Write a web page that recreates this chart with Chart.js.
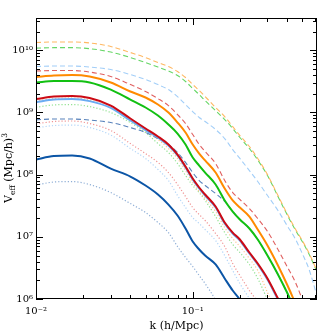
<!DOCTYPE html>
<html>
<head>
<meta charset="utf-8">
<script src="https://cdn.jsdelivr.net/npm/chart.js@4.4.1/dist/chart.umd.min.js"></script>
<style>
    html, body { margin: 0; padding: 0; background: #fff; }
    #wrap { width: 335px; height: 335px; }
</style>
</head>
<body>
<div id="wrap"><canvas id="veffChart" width="335" height="335"></canvas></div>
<script>
// k grid (h/Mpc) shared by every curve
const kValues = [0.01, 0.013, 0.017, 0.022, 0.03, 0.04, 0.05, 0.06, 0.07, 0.08, 0.09, 0.1, 0.11, 0.12,
                 0.14, 0.16, 0.18, 0.2, 0.23, 0.26, 0.3, 0.35, 0.4, 0.45, 0.5, 0.55, 0.62];

// V_eff (Mpc/h)^3
const orangeDashed = [1.33e10, 1.36e10, 1.36e10, 1.31e10, 1.15e10, 9.19e9, 7.63e9, 6.34e9, 5.47e9, 4.55e9, 3.64e9, 2.81e9, 2.25e9, 1.80e9,
                      1.20e9, 8.59e8, 5.93e8, 4.25e8, 2.83e8, 1.82e8, 1.00e8, 4.61e7, 2.37e7, 1.36e7, 8.71e6, 5.59e6, 2.87e6];
const greenDashed = [1.08e10, 1.10e10, 1.10e10, 1.06e10, 9.35e9, 7.63e9, 6.34e9, 5.37e9, 4.63e9, 3.92e9, 3.14e9, 2.42e9, 1.94e9, 1.55e9,
                     1.07e9, 7.69e8, 5.51e8, 3.95e8, 2.63e8, 1.72e8, 9.68e7, 4.45e7, 2.28e7, 1.31e7, 8.40e6, 5.39e6, 2.77e6];
const lightBlueDashed = [5.47e9, 5.57e9, 5.57e9, 5.37e9, 4.89e9, 4.07e9, 3.38e9, 2.81e9, 2.33e9, 1.80e9, 1.34e9, 1.03e9, 8.28e8, 7.14e8,
                         5.31e8, 3.80e8, 2.53e8, 1.82e8, 1.16e8, 7.74e7, 4.61e7, 2.65e7, 1.52e7, 9.39e6, 5.39e6, 3.09e6, 1.14e6];
const redDashed = [4.63e9, 4.72e9, 4.72e9, 4.46e9, 3.78e9, 2.81e9, 2.17e9, 1.67e9, 1.29e9, 9.25e8, 6.63e8, 4.41e8, 3.05e8, 2.35e8,
                   1.51e8, 8.04e7, 5.15e7, 3.98e7, 2.85e7, 1.97e7, 1.22e7, 6.25e6, 3.33e6, 1.91e6, 1.0e6, 6.07e5, null];
const orangeSolid = [3.71e9, 3.92e9, 3.99e9, 3.78e9, 3.03e9, 2.17e9, 1.74e9, 1.34e9, 9.96e8, 6.88e8, 4.75e8, 3.05e8, 2.18e8, 1.69e8,
                     1.08e8, 5.98e7, 3.84e7, 2.96e7, 2.12e7, 1.31e7, 7.24e6, 3.46e6, 1.71e6, 8.78e5, 4.86e5, null, null];
const greenSolid = [3.03e9, 3.20e9, 3.20e9, 3.03e9, 2.33e9, 1.61e9, 1.20e9, 8.91e8, 6.39e8, 4.58e8, 3.05e8, 1.88e8, 1.40e8, 1.08e8,
                    6.93e7, 3.84e7, 2.55e7, 1.90e7, 1.36e7, 9.05e6, 5.00e6, 2.48e6, 1.27e6, 6.53e5, 3.75e5, null, null];
const redSolid = [1.64e9, 1.80e9, 1.84e9, 1.71e9, 1.29e9, 7.98e8, 5.51e8, 4.10e8, 3.05e8, 2.10e8, 1.35e8, 8.65e7, 6.21e7, 4.79e7,
                  3.07e7, 1.70e7, 1.17e7, 9.05e6, 5.59e6, 3.72e6, 2.14e6, 1.02e6, 5.43e5, null, null, null, null];
const lightBlueSolid = [1.46e9, 1.61e9, 1.64e9, 1.52e9, 1.18e9, 7.41e8, 5.21e8, 3.95e8, 2.94e8, 2.03e8, 1.30e8, 8.34e7, 5.98e7, 4.61e7,
                        2.96e7, 1.64e7, 1.13e7, 8.71e6, 5.39e6, 3.59e6, 2.06e6, 9.8e5, 5.2e5, null, null, null, null];
const orangeDotted = [1.54e9, 1.67e9, 1.71e9, 1.58e9, 1.20e9, 7.41e8, 5.02e8, 3.67e8, 2.63e8, 1.82e8, 1.16e8, 7.46e7, 5.35e7, 4.13e7,
                      2.55e7, 1.41e7, 9.39e6, 6.98e6, 4.48e6, 2.87e6, 1.27e6, 5.43e5, null, null, null, null, null];
const greenDotted = [1.21e9, 1.32e9, 1.34e9, 1.24e9, 9.96e8, 6.88e8, 4.75e8, 3.16e8, 2.27e8, 1.51e8, 9.68e7, 6.68e7, 5.15e7, 3.84e7,
                     2.12e7, 1.17e7, 7.52e6, 5.59e6, 3.59e6, 2.14e6, 9.8e5, 4.5e5, null, null, null, null, null];
const darkBlueDashed = [7.60e8, 7.83e8, 7.83e8, 7.55e8, 6.88e8, 5.71e8, 4.75e8, 3.80e8, 3.05e8, 2.27e8, 1.57e8, 1.08e8, 8.04e7, 6.68e7,
                        4.97e7, 3.70e7, 2.55e7, 1.90e7, 1.36e7, 9.05e6, 5.00e6, 2.48e6, 1.27e6, 6.5e5, 3.75e5, null, null];
const redDotted = [6.56e8, 7.14e8, 7.28e8, 6.63e8, 5.12e8, 3.16e8, 2.18e8, 1.57e8, 1.08e8, 6.93e7, 4.45e7, 2.96e7, 2.28e7, 1.83e7,
                   1.13e7, 6.98e6, 3.72e6, 2.39e6, 1.37e6, 8.78e5, 3.75e5, null, null, null, null, null, null];
const lightBlueDotted = [5.65e8, 6.15e8, 6.27e8, 5.71e8, 4.33e8, 2.63e8, 1.82e8, 1.21e8, 8.04e7, 4.61e7, 2.96e7, 2.04e7, 1.64e7, 1.31e7,
                         8.71e6, 5.00e6, 2.87e6, 1.77e6, 1.02e6, 6.07e5, 3.12e5, null, null, null, null, null, null];
const darkBlueSolid = [1.75e8, 1.99e8, 2.03e8, 1.82e8, 1.25e8, 9.32e7, 6.68e7, 4.79e7, 3.30e7, 2.20e7, 1.36e7, 8.40e6, 6.25e6, 5.00e6,
                       3.59e6, 2.14e6, 1.37e6, 9.8e5, 5.4e5, null, null, null, null, null, null, null, null];
const darkBlueDotted = [6.81e7, 7.60e7, 7.74e7, 6.93e7, 5.15e7, 3.43e7, 2.46e7, 1.70e7, 1.17e7, 6.98e6, 4.65e6, 3.33e6, 2.39e6, 1.77e6,
                        9.5e5, 4.5e5, null, null, null, null, null, null, null, null, null, null, null];

// axis ticks and labels
const xTicks = [0.01, 0.1];
const xTickLabels = ['10\u207B\u00B2', '10\u207B\u00B9'];
const yTicks = [1e6, 1e7, 1e8, 1e9, 1e10];
const yTickLabels = ['10\u2076', '10\u2077', '10\u2078', '10\u2079', '10\u00B9\u2070'];

const ORANGE = '#ff8a00';
const GREEN = '#12c012';
const RED = '#cc0a14';
const LIGHT_BLUE = '#6aacf2';
const DARK_BLUE = '#0b55a6';

const SERIF = '"DejaVu Serif", "Liberation Serif", serif';

// first entry is drawn on top
const curves = [
    { data: redSolid, color: RED, style: 'solid' },
    { data: lightBlueSolid, color: LIGHT_BLUE, style: 'solid' },
    { data: orangeSolid, color: ORANGE, style: 'solid' },
    { data: greenSolid, color: GREEN, style: 'solid' },
    { data: darkBlueSolid, color: DARK_BLUE, style: 'solid' },
    { data: orangeDashed, color: '#ffb862', style: 'dashed' },
    { data: greenDashed, color: '#66d666', style: 'dashed' },
    { data: lightBlueDashed, color: '#a2cef8', style: 'dashed' },
    { data: redDashed, color: '#e06060', style: 'dashed' },
    { data: darkBlueDashed, color: '#5882bb', style: 'dashed' },
    { data: orangeDotted, color: '#ffc48e', style: 'dotted' },
    { data: greenDotted, color: '#92e292', style: 'dotted' },
    { data: redDotted, color: '#f09494', style: 'dotted' },
    { data: lightBlueDotted, color: '#b4d6f8', style: 'dotted' },
    { data: darkBlueDotted, color: '#8eaed6', style: 'dotted' },
];

const dashFor = { solid: [], dashed: [5, 3], dotted: [1.2, 2] };
const widthFor = { solid: 2, dashed: 1.1, dotted: 1.2 };

// frame with inward ticks on all four sides, plus axis titles
const frameAndTitles = {
    id: 'frameAndTitles',
    afterDraw(chart) {
        const { ctx, chartArea: a, scales: { x, y } } = chart;
        ctx.save();
        ctx.strokeStyle = '#000';
        ctx.lineWidth = 1;
        ctx.strokeRect(a.left + 0.5, a.top + 0.5, a.right - a.left - 1, a.bottom - a.top - 1);

        ctx.beginPath();
        for (let d = -2; d <= 0; d++) {
            for (let m = 1; m <= 9; m++) {
                const v = m * Math.pow(10, d);
                if (v < x.min || v > x.max) continue;
                const px = Math.round(x.getPixelForValue(v)) + 0.5;
                const len = m === 1 ? 7 : 4;
                ctx.moveTo(px, a.bottom); ctx.lineTo(px, a.bottom - len);
                ctx.moveTo(px, a.top); ctx.lineTo(px, a.top + len);
            }
        }
        for (let d = 6; d <= 10; d++) {
            for (let m = 1; m <= 9; m++) {
                const v = m * Math.pow(10, d);
                if (v < y.min || v > y.max) continue;
                const py = Math.round(y.getPixelForValue(v)) + 0.5;
                const len = m === 1 ? 7 : 4;
                ctx.moveTo(a.left, py); ctx.lineTo(a.left + len, py);
                ctx.moveTo(a.right, py); ctx.lineTo(a.right - len, py);
            }
        }
        ctx.stroke();

        ctx.fillStyle = '#000';
        ctx.textBaseline = 'alphabetic';
        // x title
        ctx.font = '11px ' + SERIF;
        ctx.textAlign = 'center';
        ctx.fillText('k (h/Mpc)', (a.left + a.right) / 2, 329);

        // y title, rotated, with subscript and superscript
        const parts = [
            { t: 'V', size: 11, dy: 0 },
            { t: 'eff', size: 7.5, dy: 3 },
            { t: ' (Mpc/h)', size: 11, dy: 0 },
            { t: '3', size: 7.5, dy: -5 },
        ];
        let total = 0;
        parts.forEach(p => { ctx.font = p.size + 'px ' + SERIF; p.w = ctx.measureText(p.t).width; total += p.w; });
        ctx.translate(12, 168);
        ctx.rotate(-Math.PI / 2);
        ctx.textAlign = 'left';
        let cx = -total / 2;
        parts.forEach(p => {
            ctx.font = p.size + 'px ' + SERIF;
            ctx.fillText(p.t, cx, p.dy);
            cx += p.w;
        });
        ctx.restore();
    }
};

new Chart(document.getElementById('veffChart'), {
    type: 'line',
    data: {
        datasets: curves.map(c => ({
            data: kValues.map((k, i) => ({ x: k, y: c.data[i] })),
            borderColor: c.color,
            borderWidth: widthFor[c.style],
            borderDash: dashFor[c.style],
            pointRadius: 0,
            fill: false,
            cubicInterpolationMode: 'monotone',
            spanGaps: false,
            clip: 0,
        }))
    },
    options: {
        responsive: false,
        animation: false,
        devicePixelRatio: 1,
        layout: { padding: { top: 18, right: 18, left: 0, bottom: 0 } },
        plugins: { legend: { display: false }, tooltip: { enabled: false } },
        scales: {
            x: {
                type: 'logarithmic',
                min: 0.01,
                max: 0.621,
                afterBuildTicks: s => { s.ticks = xTicks.map(v => ({ value: v })); },
                afterFit: s => { s.height = 36; },
                grid: { display: false, drawTicks: false },
                border: { display: false },
                ticks: {
                    autoSkip: false,
                    maxRotation: 0,
                    padding: 6,
                    color: '#000',
                    font: { family: SERIF, size: 10 },
                    callback: v => {
                        const i = xTicks.findIndex(t => Math.abs(t - v) / t < 1e-6);
                        return i >= 0 ? xTickLabels[i] : '';
                    }
                }
            },
            y: {
                type: 'logarithmic',
                min: 1e6,
                max: 3.3e10,
                afterBuildTicks: s => { s.ticks = yTicks.map(v => ({ value: v })); },
                afterFit: s => { s.width = 36; },
                grid: { display: false, drawTicks: false },
                border: { display: false },
                ticks: {
                    autoSkip: false,
                    padding: 3,
                    color: '#000',
                    font: { family: SERIF, size: 10 },
                    callback: v => {
                        const i = yTicks.findIndex(t => Math.abs(t - v) / t < 1e-6);
                        return i >= 0 ? yTickLabels[i] : '';
                    }
                }
            }
        }
    },
    plugins: [frameAndTitles]
});
</script>
</body>
</html>
